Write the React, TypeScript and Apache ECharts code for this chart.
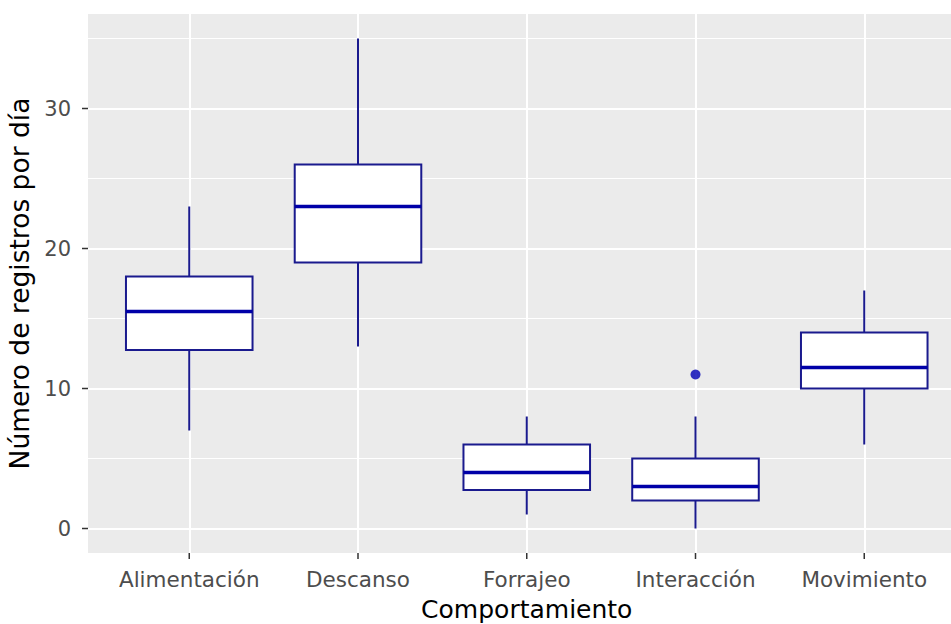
import React, { useEffect, useRef } from "react";
import * as echarts from "echarts";

// Behaviour categories and the five-number summary of daily records for each
const categories = ["Alimentación", "Descanso", "Forrajeo", "Interacción", "Movimiento"];
const lowerWhisker = [7, 13, 1, 0, 6];
const q1 = [12.75, 19, 2.75, 2, 10];
const median = [15.5, 23, 4, 3, 11.5];
const q3 = [18, 26, 6, 5, 14];
const upperWhisker = [23, 35, 8, 8, 17];
// Points beyond the whiskers: [category, value]
const outliers: [string, number][] = [["Interacción", 11]];

const yMajorTicks = [0, 10, 20, 30];
const yMinorTicks = [5, 15, 25, 35];

const FONT = "DejaVu Sans";
const BOX_COLOR = "#1a1a8e";
const MEDIAN_COLOR = "#0000a8";
const TICK_COLOR = "#333333";
const TICK_LEN = 6;
const BOX_WIDTH = 0.75; // in category units, as in ggplot's default

// axis limits: categories at 1..n padded by 0.6, values padded by 5% of the range
const X_MIN = 0.4;
const X_MAX = categories.length + 0.6;
const Y_MIN = -1.75;
const Y_MAX = 36.75;

const catPos = (name: string) => categories.indexOf(name) + 1;
const xPositions = categories.map((_, i) => i + 1);

export default function App() {
  const ref = useRef<HTMLDivElement>(null);

  useEffect(() => {
    if (!ref.current) return;
    const chart = echarts.init(ref.current, null, { renderer: "svg" });

    const boxData = categories.map((_, i) => [
      i + 1,
      lowerWhisker[i],
      q1[i],
      median[i],
      q3[i],
      upperWhisker[i],
    ]);

    const option: any = {
      animation: false,
      backgroundColor: "#ffffff",
      grid: {
        left: 88,
        top: 14,
        width: 877.5,
        bottom: 71,
        containLabel: false,
        outerBoundsMode: "none",
        show: true,
        backgroundColor: "#ebebeb",
        borderWidth: 0,
      },
      xAxis: {
        type: "value",
        min: X_MIN,
        max: X_MAX,
        axisLine: { show: false, onZero: false },
        axisTick: { show: false, customValues: xPositions },
        axisLabel: {
          customValues: xPositions,
          formatter: (v: number) => categories[Math.round(v) - 1] ?? "",
          margin: 15,
          color: "#4d4d4d",
          fontFamily: FONT,
          fontSize: 21.5,
        },
        splitLine: { show: true, lineStyle: { color: "#ffffff", width: 2 } },
        name: "Comportamiento",
        nameLocation: "middle",
        nameGap: 44,
        nameTextStyle: { color: "#000000", fontFamily: FONT, fontSize: 25 },
      },
      yAxis: [
        {
          type: "value",
          min: Y_MIN,
          max: Y_MAX,
          axisLine: { show: false, onZero: false },
          axisTick: { show: false, customValues: yMajorTicks },
          axisLabel: {
            customValues: yMajorTicks,
            margin: 17,
            color: "#4d4d4d",
            fontFamily: FONT,
            fontSize: 21,
          },
          splitLine: { show: true, lineStyle: { color: "#ffffff", width: 2 } },
          name: "Número de registros por día",
          nameLocation: "middle",
          nameGap: 50,
          nameTextStyle: { color: "#000000", fontFamily: FONT, fontSize: 26.5 },
        },
        {
          // minor grid lines only
          type: "value",
          min: Y_MIN,
          max: Y_MAX,
          position: "left",
          axisLine: { show: false, onZero: false },
          axisTick: { show: false, customValues: yMinorTicks },
          axisLabel: { show: false, customValues: yMinorTicks },
          splitLine: { show: true, lineStyle: { color: "#ffffff", width: 1 } },
        },
      ],
      series: [
        {
          type: "custom",
          name: "boxes",
          xAxisIndex: 0,
          yAxisIndex: 0,
          data: boxData,
          encode: { x: 0, y: [1, 2, 3, 4, 5] },
          renderItem: (_params: any, api: any) => {
            const x = api.value(0);
            const lo = api.coord([x, api.value(1)]);
            const a = api.coord([x, api.value(2)]);
            const m = api.coord([x, api.value(3)]);
            const b = api.coord([x, api.value(4)]);
            const hi = api.coord([x, api.value(5)]);
            const left = api.coord([x - BOX_WIDTH / 2, api.value(3)])[0];
            const right = api.coord([x + BOX_WIDTH / 2, api.value(3)])[0];
            const cx = lo[0];
            const whiskerStyle = { stroke: BOX_COLOR, lineWidth: 2 };
            return {
              type: "group",
              children: [
                { type: "line", shape: { x1: cx, y1: hi[1], x2: cx, y2: b[1] }, style: whiskerStyle },
                { type: "line", shape: { x1: cx, y1: a[1], x2: cx, y2: lo[1] }, style: whiskerStyle },
                {
                  type: "rect",
                  shape: { x: left, y: b[1], width: right - left, height: a[1] - b[1] },
                  style: { fill: "#ffffff", stroke: BOX_COLOR, lineWidth: 2 },
                },
                {
                  type: "line",
                  shape: { x1: left, y1: m[1], x2: right, y2: m[1] },
                  style: { stroke: MEDIAN_COLOR, lineWidth: 3.5 },
                },
              ],
            };
          },
        },
        {
          type: "scatter",
          name: "outliers",
          xAxisIndex: 0,
          yAxisIndex: 0,
          data: outliers.map(([c, v]) => [catPos(c), v]),
          symbol: "circle",
          symbolSize: 10,
          itemStyle: { color: "#0000b4" },
        },
        {
          // tick marks below the panel, one per category
          type: "custom",
          name: "xTicks",
          xAxisIndex: 0,
          yAxisIndex: 0,
          silent: true,
          clip: false,
          data: xPositions.map((x) => [x, Y_MIN]),
          encode: { x: 0, y: 1 },
          renderItem: (_params: any, api: any) => {
            const p = api.coord([api.value(0), api.value(1)]);
            return {
              type: "line",
              shape: { x1: p[0], y1: p[1], x2: p[0], y2: p[1] + TICK_LEN },
              style: { stroke: TICK_COLOR, lineWidth: 1.5 },
            };
          },
        },
        {
          // tick marks left of the panel, at the labelled values
          type: "custom",
          name: "yTicks",
          xAxisIndex: 0,
          yAxisIndex: 0,
          silent: true,
          clip: false,
          data: yMajorTicks.map((v) => [X_MIN, v]),
          encode: { x: 0, y: 1 },
          renderItem: (_params: any, api: any) => {
            const p = api.coord([api.value(0), api.value(1)]);
            return {
              type: "line",
              shape: { x1: p[0] - TICK_LEN, y1: p[1], x2: p[0], y2: p[1] },
              style: { stroke: TICK_COLOR, lineWidth: 1.5 },
            };
          },
        },
      ],
    };

    chart.setOption(option);
    return () => chart.dispose();
  }, []);

  return (
    <div
      ref={ref}
      style={{ position: "absolute", left: 0, top: 0, width: 951, height: 624, background: "#fff" }}
    />
  );
}
